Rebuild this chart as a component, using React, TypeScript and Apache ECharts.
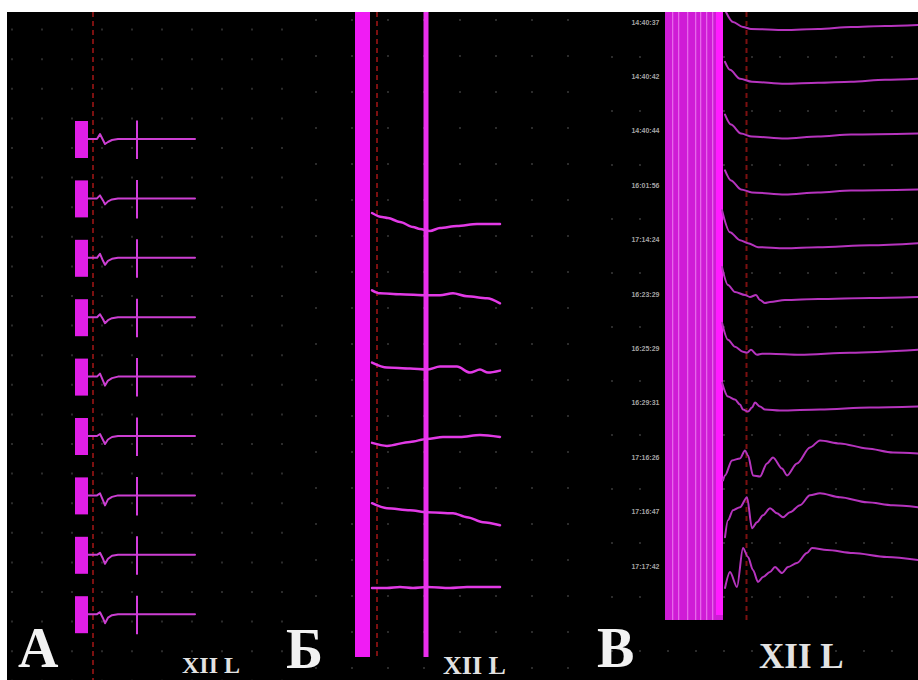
import React, { useEffect, useRef } from "react";
import * as echarts from "echarts";

// ---------- Panel A (time ms from panel origin, amplitude µV relative to each trace baseline)
const A_TIME = [7.6, 8.5, 8.8, 9.1, 9.3, 9.6, 10.0, 10.6, 18.3];
const A_TRACE_1 = [0, 0, -50, 10, 50, 30, 10, 0, 0];
const A_TRACE_2 = [0, 0, -30, 20, 60, 30, 10, 0, 0];
const A_TRACE_3 = [0, 0, -40, 30, 70, 30, 10, 0, 0];
const A_TRACE_4 = [0, 0, -30, 20, 60, 30, 10, 0, 0];
const A_TRACE_5 = [0, 0, -30, 40, 90, 40, 15, 0, 0];
const A_TRACE_6 = [0, 0, -20, 40, 80, 35, 10, 0, 0];
const A_TRACE_7 = [0, 0, -20, 50, 100, 40, 15, 0, 0];
const A_TRACE_8 = [0, 0, -20, 40, 90, 40, 10, 0, 0];
const A_TRACE_9 = [0, 0, -20, 40, 90, 35, 10, 0, 0];
const A_TRACES = [A_TRACE_1, A_TRACE_2, A_TRACE_3, A_TRACE_4, A_TRACE_5, A_TRACE_6, A_TRACE_7, A_TRACE_8, A_TRACE_9];
const A_STIM = [6.3, 7.6, -180, 190];
const A_MARK = [12.4, 12.6, -185, 200];
const A_CURSOR = 8.1;

// ---------- Panel Б
const B_TRACE_1 = [[5.6, -80], [6.6, -40], [7.2, -30], [8.4, 10], [9.7, 60], [10.4, 80], [11.4, 100], [12.4, 70], [14.1, 50], [16.1, 30], [18.4, 30]];
const B_TRACE_2 = [[5.6, -40], [6.4, -10], [8.4, 0], [11.1, 10], [12.4, 10], [13.7, -10], [15.1, 20], [17.1, 40], [18.4, 90]];
const B_TRACE_3 = [[5.6, -50], [7.1, 0], [9.4, 10], [11.1, 20], [12.4, -10], [14.1, -10], [15.4, 50], [16.4, 20], [17.2, 50], [18.4, 30]];
const B_TRACE_4 = [[5.6, 20], [7.1, 50], [9.4, 10], [11.1, -20], [12.7, -40], [14.4, -40], [16.4, -60], [18.4, -40]];
const B_TRACE_5 = [[5.6, -110], [7.1, -60], [9.4, -40], [11.1, -20], [13.7, -10], [15.1, 30], [16.7, 80], [18.4, 110]];
const B_TRACE_6 = [[5.6, 5], [7.1, 5], [8.4, -5], [9.7, 5], [11.1, -5], [13.4, 5], [15.1, -5], [18.4, -5]];
const B_TRACES = [B_TRACE_1, B_TRACE_2, B_TRACE_3, B_TRACE_4, B_TRACE_5, B_TRACE_6];
const B_STIM = [3.9, 5.4, -2090, 4360];
const B_MARK = [10.75, 11.25, -2090, 4360];
const B_CURSOR = 6.1;

// ---------- Panel В
const C_TRACE_1 = [[11.4, -180], [12.1, -80], [13.1, -30], [13.9, -10], [17.3, 0], [20.6, -10], [23.9, -30], [27.3, -40], [30.6, -50]];
const C_TRACE_2 = [[11.3, -220], [11.8, -140], [12.8, -50], [14.0, -20], [17.3, 0], [20.6, -10], [23.9, -20], [27.3, -40], [30.6, -50]];
const C_TRACE_3 = [[11.3, -230], [11.9, -130], [12.9, -40], [14.0, -10], [17.3, 10], [20.6, -10], [23.9, -30], [30.6, -40]];
const C_TRACE_4 = [[11.3, -210], [11.9, -110], [12.9, -20], [14.0, 10], [17.3, 30], [20.6, 10], [23.9, -10], [30.6, -20]];
const C_TRACE_5 = [[11.0, -350], [11.8, -130], [12.8, -50], [13.6, -20], [14.6, 20], [17.3, 30], [20.6, 20], [25.8, 0], [30.6, -20]];
const C_TRACE_6 = [[11.0, -320], [11.6, -140], [12.3, -70], [13.3, -40], [13.8, -20], [14.4, -40], [14.8, 10], [15.3, 40], [15.8, 30], [17.3, 10], [20.6, 0], [25.8, -10], [30.6, -20]];
const C_TRACE_7 = [[11.0, -300], [11.6, -130], [12.3, -60], [13.1, -10], [13.5, 0], [13.9, -30], [14.5, 20], [15.0, 10], [15.8, 10], [18.8, 20], [23.8, 0], [30.6, -30]];
const C_TRACE_8 = [[11.0, -240], [11.6, -100], [12.3, -70], [12.8, -20], [13.1, 30], [13.6, 50], [14.0, 10], [14.3, -40], [14.8, 0], [15.3, 30], [16.8, 40], [20.8, 30], [25.8, 10], [30.6, 0]];
const C_TRACE_9 = [[11.1, 200], [11.3, 150], [12.0, 0], [12.8, -20], [13.3, -100], [13.6, -50], [14.1, 150], [14.8, 160], [15.5, 30], [16.1, -30], [17.0, 80], [17.5, 150], [18.5, 30], [19.8, -130], [20.8, -200], [22.8, -170], [25.5, -120], [28.1, -80], [30.6, -70]];
const C_TRACE_10 = [[11.3, 230], [11.6, 60], [12.1, -40], [12.8, -70], [13.5, -170], [14.0, 140], [14.5, 80], [15.1, 10], [15.8, -60], [16.5, -10], [17.1, 30], [17.8, -20], [18.8, -90], [19.8, -190], [20.8, -210], [22.8, -170], [25.5, -120], [28.1, -90], [30.6, -70]];
const C_TRACE_11 = [[11.3, 200], [11.8, 40], [12.5, 190], [13.1, -200], [13.6, -110], [14.1, 20], [14.6, 140], [15.1, 90], [15.8, 40], [16.3, -10], [17.0, 50], [17.6, -10], [18.5, -50], [19.5, -150], [20.0, -200], [21.5, -180], [24.1, -150], [27.5, -110], [30.6, -80]];
const C_TRACES = [C_TRACE_1, C_TRACE_2, C_TRACE_3, C_TRACE_4, C_TRACE_5, C_TRACE_6, C_TRACE_7, C_TRACE_8, C_TRACE_9, C_TRACE_10, C_TRACE_11];
const C_LABELS = ["14:40:37", "14:40:42", "14:40:44", "16:01:56", "17:14:24", "16:23:29", "16:25:29", "16:29:31", "17:16:26", "17:16:47", "17:17:42"];
const C_STIM = [5.3, 11.1, -180, 5900];
const C_STIM_BRIGHT = [10.4, 11.1, -180, 5850];
const C_STIM_STRIPES = [6.0, 6.6, 7.5, 8.3, 8.8, 9.4, 10.0];
const C_CURSOR = 13.45;

// ---------- layout / style constants
const A_SPACING = 594;
const B_SPACING = 733;
const C_SPACING = 538;
const C_LABEL_STEP = 544;
const C_LABEL_SHIFT = -80;
const C_LABEL_T = 4.8;

const SERIF = '"Liberation Serif", "Times New Roman", serif';

function rectSeries(axis: number, rects: number[][], fills: string[], z = 2) {
  return {
    type: "custom",
    xAxisIndex: axis,
    yAxisIndex: axis,
    silent: true,
    z,
    data: rects,
    renderItem: (params: any, api: any) => {
      const p0 = api.coord([api.value(0), api.value(2)]);
      const p1 = api.coord([api.value(1), api.value(3)]);
      return {
        type: "rect",
        shape: {
          x: Math.min(p0[0], p1[0]),
          y: Math.min(p0[1], p1[1]),
          width: Math.abs(p1[0] - p0[0]),
          height: Math.abs(p1[1] - p0[1]),
        },
        style: { fill: fills[params.dataIndex] },
      };
    },
  };
}

function lineSeries(axis: number, data: number[][], color: string, width: number, smooth: number | boolean) {
  return {
    type: "line",
    xAxisIndex: axis,
    yAxisIndex: axis,
    silent: true,
    symbol: "none",
    smooth,
    smoothMonotone: "x",
    z: 4,
    data,
    lineStyle: { color, width, cap: "round", join: "round" },
  };
}

function cursorSeries(axis: number, t: number, v0: number, v1: number) {
  return {
    type: "line",
    xAxisIndex: axis,
    yAxisIndex: axis,
    silent: true,
    symbol: "none",
    z: 3,
    data: [[t, v0], [t, v1]],
    lineStyle: { color: "#7c1010", width: 2, type: [5, 4] },
  };
}

function xAxisFor(grid: number, max: number, interval: number, period: number, offset: number) {
  return {
    gridIndex: grid,
    type: "value",
    min: 0,
    max,
    interval,
    axisLine: { show: false },
    axisTick: { show: false },
    axisLabel: { show: false },
    splitLine: {
      show: true,
      showMinLine: true,
      showMaxLine: false,
      lineStyle: { color: "#2b2b2b", width: 2, type: [2, period - 2], dashOffset: offset },
    },
  };
}

function yAxisFor(grid: number, min: number, max: number) {
  return { gridIndex: grid, type: "value", min, max, inverse: true, show: false };
}

function buildOption() {
  const series: any[] = [];

  // Panel A
  series.push(
    rectSeries(
      0,
      A_TRACES.flatMap((_, i) => [
        [A_STIM[0], A_STIM[1], A_STIM[2] + i * A_SPACING, A_STIM[3] + i * A_SPACING],
        [A_MARK[0], A_MARK[1], A_MARK[2] + i * A_SPACING, A_MARK[3] + i * A_SPACING],
      ]),
      A_TRACES.flatMap(() => ["#e01fe6", "#d43ddc"])
    )
  );
  A_TRACES.forEach((vals, i) => {
    series.push(lineSeries(0, A_TIME.map((t, j) => [t, vals[j] + i * A_SPACING]), "#cc3fd2", 2, false));
  });
  series.push(cursorSeries(0, A_CURSOR, -1270, 5410));

  // Panel Б
  series.push(rectSeries(1, [B_STIM, B_MARK], ["#f01cf4", "#ea2eec"]));
  B_TRACES.forEach((pairs, i) => {
    series.push(lineSeries(1, pairs.map(([t, v]) => [t, v + i * B_SPACING]), "#e23ae6", 2.5, 0.3));
  });
  series.push(cursorSeries(1, B_CURSOR, -2090, 4360));

  // Panel В
  const stripeW = 0.13;
  series.push(
    rectSeries(
      2,
      [C_STIM, ...C_STIM_STRIPES.map((t) => [t, t + stripeW, C_STIM[2], C_STIM[3]]), C_STIM_BRIGHT],
      ["#cf1cd6", ...C_STIM_STRIPES.map(() => "#e666ea"), "#ff1cff"]
    )
  );
  series.push(cursorSeries(2, C_CURSOR, -180, 5920));
  C_TRACES.forEach((pairs, i) => {
    series.push(lineSeries(2, pairs.map(([t, v]) => [t, v + i * C_SPACING]), "#b634be", 2, 0.3));
  });
  series.push({
    type: "scatter",
    xAxisIndex: 2,
    yAxisIndex: 2,
    silent: true,
    symbolSize: 1,
    itemStyle: { color: "rgba(0,0,0,0)" },
    data: C_LABELS.map((_, i) => [C_LABEL_T, i * C_LABEL_STEP + C_LABEL_SHIFT]),
    label: {
      show: true,
      position: "left",
      distance: 0,
      formatter: (p: any) => C_LABELS[p.dataIndex],
      color: "#cfcfcf",
      fontSize: 7,
      fontWeight: "bold",
      fontFamily: '"Liberation Sans", Arial, sans-serif',
    },
  });

  const bigText = (text: string, x: number, y: number, size: number, color: string) => ({
    type: "text",
    x,
    y,
    z: 50,
    style: {
      text,
      fill: color,
      font: `bold ${size}px ${SERIF}`,
      textVerticalAlign: "middle",
      verticalAlign: "middle",
    },
  });

  return {
    animation: false,
    backgroundColor: "#000000",
    grid: [
      { left: 12, top: 12, width: 288, height: 668 },
      { left: 316, top: 12, width: 284, height: 668 },
      { left: 612, top: 12, width: 306, height: 668 },
    ],
    xAxis: [
      xAxisFor(0, 28.8, 3, 29.6, 12.6),
      xAxisFor(1, 28.4, 3.6, 36, 29),
      xAxisFor(2, 30.6, 2.8, 54, 10),
    ],
    yAxis: [yAxisFor(0, -1270, 5410), yAxisFor(1, -2090, 4590), yAxisFor(2, -180, 6500)],
    series,
    graphic: [
      { type: "rect", z: 100, shape: { x: 0, y: 0, width: 918, height: 12 }, style: { fill: "#ffffff" } },
      { type: "rect", z: 100, shape: { x: 0, y: 0, width: 7, height: 680 }, style: { fill: "#ffffff" } },
      bigText("A", 18, 648, 56, "#f2f2f2"),
      bigText("Б", 286, 649, 56, "#f2f2f2"),
      bigText("В", 597, 648, 56, "#f2f2f2"),
      bigText("XII L", 182, 665, 24, "#e2e2e2"),
      bigText("XII L", 443, 665, 26, "#e2e2e2"),
      bigText("XII L", 759, 656, 35, "#e2e2e2"),
    ],
  };
}

export default function App() {
  const ref = useRef<HTMLDivElement>(null);
  useEffect(() => {
    if (!ref.current) return;
    const chart = echarts.init(ref.current, undefined, { renderer: "svg" });
    chart.setOption(buildOption() as any);
    return () => chart.dispose();
  }, []);
  return (
    <div
      ref={ref}
      style={{ position: "fixed", left: 0, top: 0, width: 918, height: 680, background: "#fff" }}
    />
  );
}
